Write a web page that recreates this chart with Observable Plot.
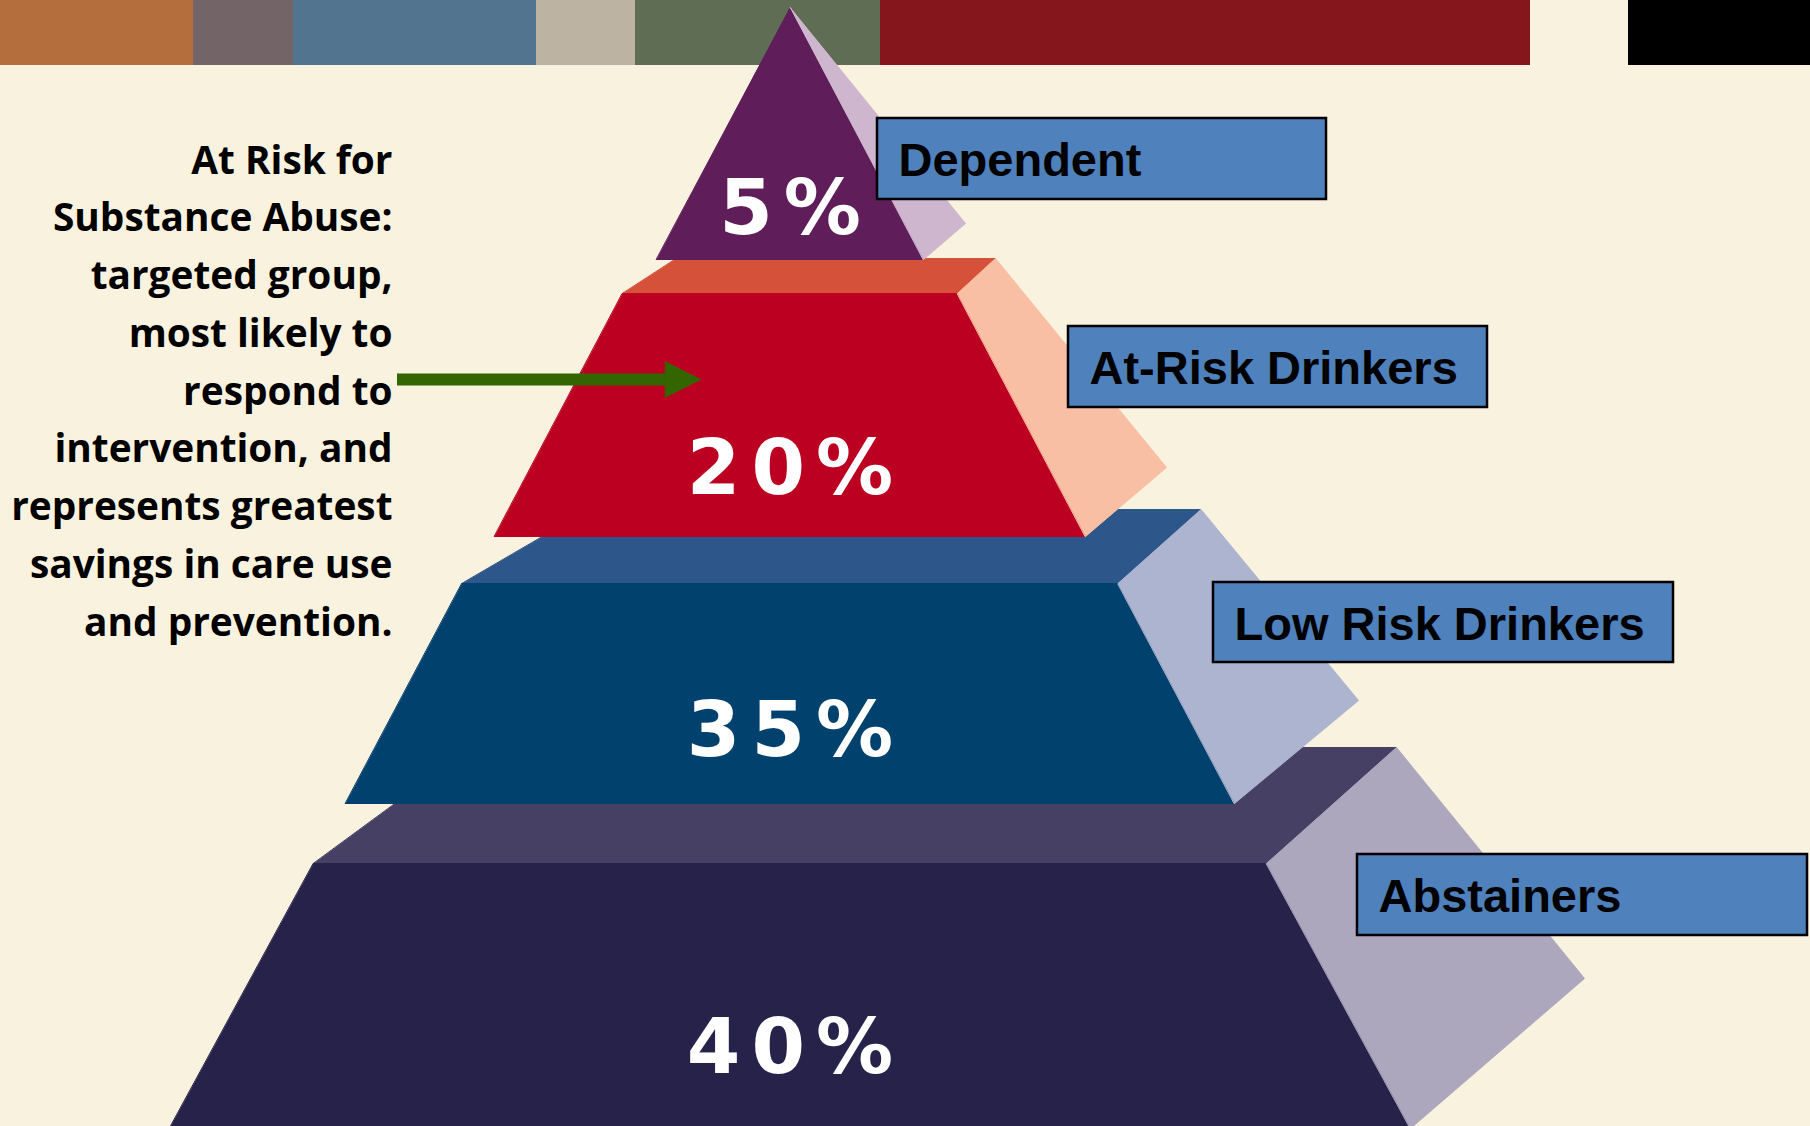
<!DOCTYPE html>
<html>
<head>
<meta charset="utf-8">
<script src="https://cdn.jsdelivr.net/npm/d3@7"></script>
<script src="https://cdn.jsdelivr.net/npm/@observablehq/plot@0.6"></script>
<style>
html, body { margin: 0; padding: 0; background: #F8F2DE; }
#chart svg { display: block; }
</style>
</head>
<body>
<div id="chart"></div>
<script>
// ---------------- DATA ----------------
const tiers = ["Dependent", "At-Risk Drinkers", "Low Risk Drinkers", "Abstainers"];
const shares = [5, 20, 35, 40];
const noteLines = [
  "At Risk for",
  "Substance Abuse:",
  "targeted group,",
  "most likely to",
  "respond to",
  "intervention, and",
  "represents greatest",
  "savings in care use",
  "and prevention."
];

// ---------------- STYLES ----------------
const frontColors = ["#5F1E5A", "#BC0021", "#00416E", "#26224A"];
const topColors   = [null,      "#D6513A", "#2D568A", "#464064"];
const sideColors  = ["#CEB7CE", "#F9BFA4", "#ADB4CF", "#ADA7BE"];
const bandColors  = ["#B46D3C", "#736467", "#52748F", "#BCB3A3", "#606D55", "#85171C", "#F8F2DE", "#000000"];

// ---------------- LAYOUT (diagram geometry, px of a 1810x1126 canvas) ----------------
const W = 1810, H = 1126, cx = 789.5;
const bandEdges = [0, 193, 293, 536, 635, 880, 1530, 1628, 1810];
const bandBottom = 65;
// front face: top/bottom y and half widths; depth offsets for top face (right/left) and side bottom
const geom = [
  {yTop: 7,   hTop: 0,     yBot: 259,  hBot: 133.5, dR: [0, 0],      dL: [0, 0],      dB: [42, -36]},
  {yTop: 293, hTop: 167.5, yBot: 536,  hBot: 295.5, dR: [38, -35],   dL: [54, -35],   dB: [81, -69]},
  {yTop: 583, hTop: 328,   yBot: 803,  hBot: 444.5, dR: [83, -74],   dL: [127, -74],  dB: [124, -103]},
  {yTop: 863, hTop: 476.5, yBot: 1128, hBot: 620.5, dR: [130, -116], dL: [158, -116], dB: [174, -150]}
];
const pctBaseline = [233, 493, 755, 1072];
const pctSpacing = 11;
const boxes = [
  [877, 118, 1326, 199],
  [1068, 326, 1487, 407],
  [1213, 582, 1673, 662],
  [1357, 854, 1807, 935]
];
const noteRight = 392, noteFirstBaseline = 173, noteStep = 57.75;
const arrow = {y: 379, x1: 397, x2: 666, headX: 665, tipX: 700, headHalf: 17.5};

// ---------------- BUILD ----------------
const band = bandColors.map((c, i) => ({x1: bandEdges[i], x2: bandEdges[i + 1], color: c}));

const vertices = [];
let fid = 0;
function poly(points, color) {
  const id = fid++;
  points.forEach(([x, y]) => vertices.push({face: id, x, y, color}));
}
for (let i = tiers.length - 1; i >= 0; --i) {
  const g = geom[i];
  const FLt = [cx - g.hTop, g.yTop], FRt = [cx + g.hTop, g.yTop];
  const FLb = [cx - g.hBot, g.yBot], FRb = [cx + g.hBot, g.yBot];
  const add = (p, d) => [p[0] + d[0], p[1] + d[1]];
  if (topColors[i]) poly([FLt, FRt, add(FRt, g.dR), add(FLt, g.dL)], topColors[i]);
  poly([FLt, FRt, FRb, FLb], frontColors[i]);
  poly([FRt, add(FRt, g.dR), add(FRb, g.dB), FRb], sideColors[i]);
}
// arrow head
const head = [
  {face: "head", x: arrow.headX, y: arrow.y - arrow.headHalf, color: "#336600"},
  {face: "head", x: arrow.tipX, y: arrow.y, color: "#336600"},
  {face: "head", x: arrow.headX, y: arrow.y + arrow.headHalf, color: "#336600"}
];

const pctData = tiers.map((t, i) => ({tier: t, share: shares[i], x: cx, y: pctBaseline[i]}));
const boxData = tiers.map((t, i) => ({tier: t, x1: boxes[i][0], y1: boxes[i][1], x2: boxes[i][2], y2: boxes[i][3]}));
const noteData = noteLines.map((s, i) => ({s, x: noteRight, y: noteFirstBaseline + i * noteStep}));

const chart = Plot.plot({
  width: W,
  height: H,
  margin: 0,
  x: {domain: [0, W], range: [0, W], axis: null},
  y: {domain: [0, H], range: [0, H], axis: null},
  color: {type: "identity"},
  style: {background: "#F8F2DE", overflow: "hidden"},
  marks: [
    Plot.rect(band, {x1: "x1", x2: "x2", y1: 0, y2: bandBottom, fill: "color"}),
    Plot.line(vertices, {x: "x", y: "y", z: "face", fill: "color", stroke: "color", strokeWidth: 1, curve: "linear-closed"}),
    Plot.rect(boxData, {x1: "x1", x2: "x2", y1: "y1", y2: "y2", fill: "#4F81BD", stroke: "#000", strokeWidth: 2.5}),
    Plot.text(boxData, {x: d => d.x1 + 21, y: d => d.y1 + 57, text: "tier", textAnchor: "start", lineAnchor: "bottom",
      fontFamily: "'Liberation Sans', Arial, sans-serif", fontWeight: 700, fontSize: 47, fill: "#000"}),
    Plot.text(pctData, {x: "x", y: "y", text: d => `${d.share}%`, textAnchor: "middle", lineAnchor: "bottom",
      fontFamily: "'DejaVu Sans', sans-serif", fontWeight: 700, fontSize: 77, fill: "#fff", ariaDescription: "pct"}),
    Plot.text(noteData, {x: "x", y: "y", text: "s", textAnchor: "end", lineAnchor: "bottom",
      fontFamily: "'Open Sans', Lato, sans-serif", fontWeight: 700, fontSize: 38.8, fill: "#000"}),
    Plot.ruleY([arrow.y], {x1: arrow.x1, x2: arrow.x2, stroke: "#336600", strokeWidth: 12}),
    Plot.line(head, {x: "x", y: "y", z: "face", fill: "color", stroke: "color", strokeWidth: 1, curve: "linear-closed"})
  ]
});
d3.select(chart).selectAll('g[aria-description="pct"] text')
  .attr("letter-spacing", `${pctSpacing}px`)
  .attr("dx", `${pctSpacing / 2}px`);
document.getElementById("chart").append(chart);
</script>
</body>
</html>
